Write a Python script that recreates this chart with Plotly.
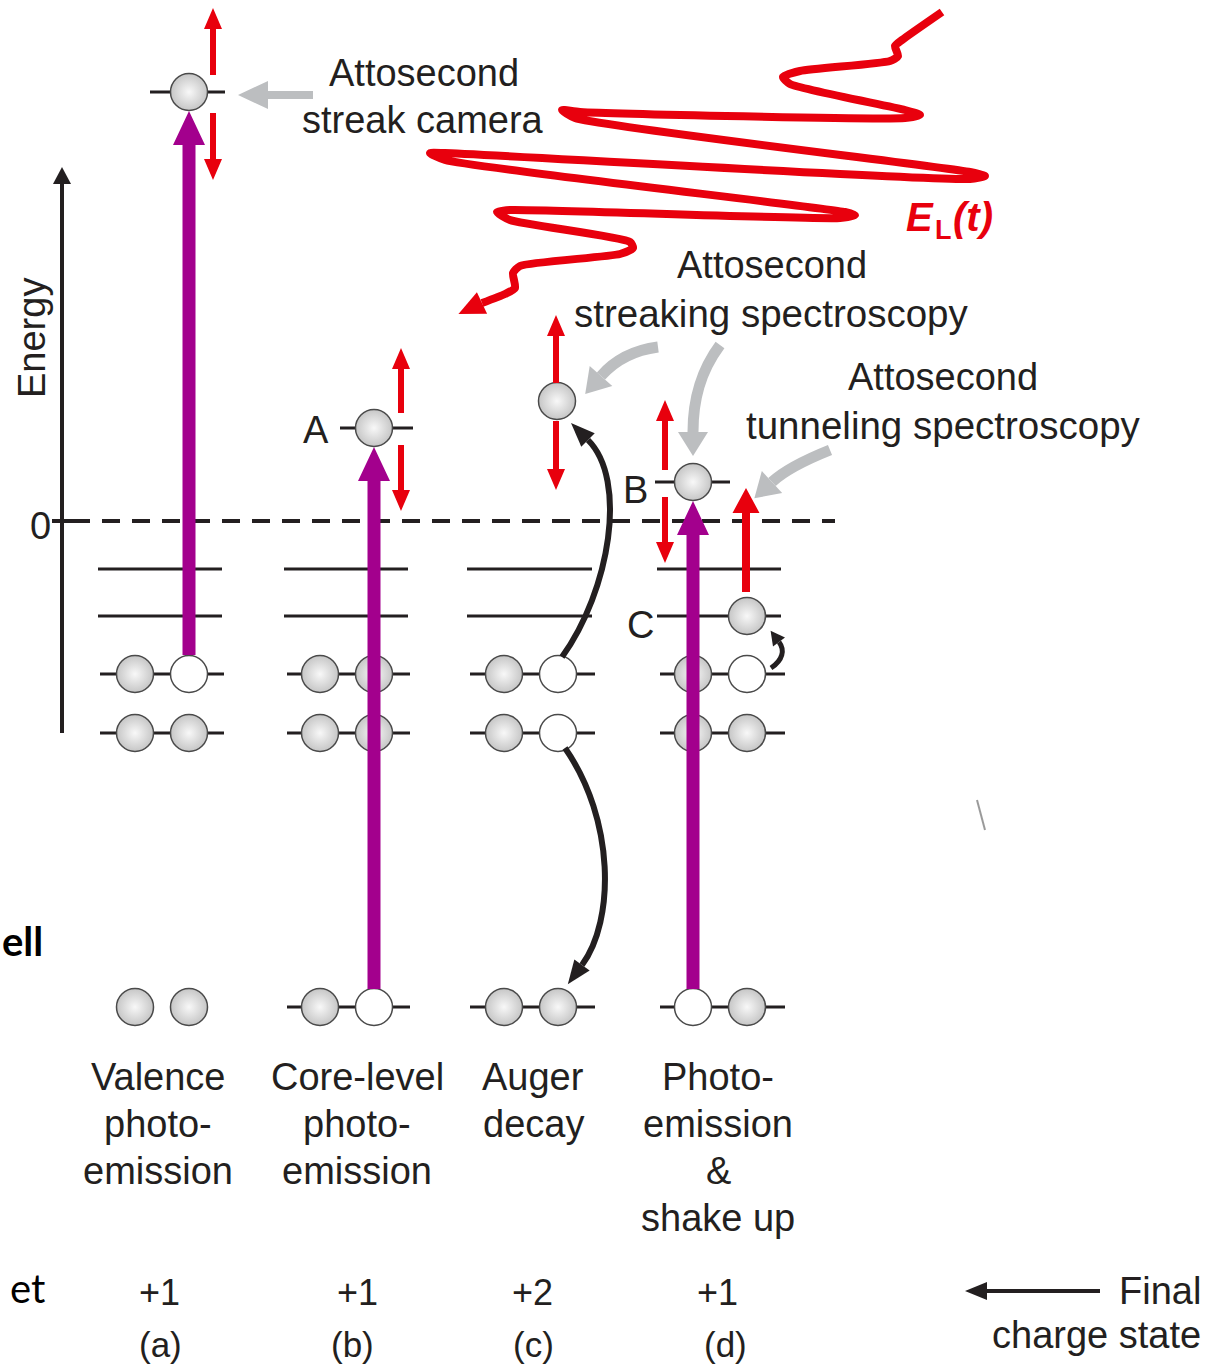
import math
import plotly.graph_objects as go

W, H = 1219, 1368

# ---------------- data (diagram space: x to the right, y downward in px) ----------------
zero_level_y = 521
unocc_levels_y = [569, 616]
valence_levels_y = [674, 733]
core_level_y = 1007

col_names = [["Valence", "photo-", "emission"],
             ["Core-level", "photo-", "emission"],
             ["Auger", "decay"],
             ["Photo-", "emission", "&", "shake up"]]
col_name_x = [158, 357, 533, 718]
charges = ["+1", "+1", "+2", "+1"]
charge_x = [159, 357, 532, 717]
panel_tags = ["(a)", "(b)", "(c)", "(d)"]
tag_x = [160, 352, 533, 725]

unocc_x0 = [98, 284, 467, 657]
unocc_x1 = [222, 408, 592, 781]
occ_x0 = [100, 287, 470, 660]
occ_x1 = [224, 410, 595, 785]
slot_left = [135, 320, 504, 693]
slot_right = [189, 374, 558, 747]
core_line_drawn = [False, True, True, True]

# occupancy of the two slots: 1 electron, 0 hole
occ_val1 = [[1, 0], [1, 1], [1, 0], [1, 0]]
occ_val2 = [[1, 1], [1, 1], [1, 0], [1, 1]]
occ_core = [[1, 1], [1, 0], [1, 1], [0, 1]]

# emitted / excited electrons
free_e_x = [189, 374, 557, 693, 747]
free_e_y = [92, 428, 401, 482, 616]
free_level_x0 = [150, 340, 655]
free_level_x1 = [225, 413, 730]
free_level_y = [92, 428, 482]
letter_labels = ["A", "B", "C"]
letter_x = [316, 635, 640]
letter_y = [430, 490, 625]

# XUV photo-excitation arrows (x, from-y, to-y)
xuv_x = [189, 374, 693]
xuv_from = [655, 989, 989]
xuv_to = [111, 447, 501]

# streaking arrows (x, up: from, to ; down: from, to)
streak_x = [213, 401, 556, 665]
streak_up_from = [75, 413, 383, 470]
streak_up_to = [8, 348, 315, 400]
streak_dn_from = [113, 445, 421, 497]
streak_dn_to = [180, 511, 490, 563]

# laser field E_L(t)
wave_x = [942, 902, 895, 898, 890, 800, 783, 790, 905, 920, 905, 580, 562, 575, 970, 985,
          970, 445, 430, 445, 845, 855, 840, 510, 497, 510, 630, 633, 620, 520, 513, 515, 505, 482]
wave_y = [12, 40, 46, 56, 61, 71, 77, 84, 110, 115, 118, 112, 110, 118, 172, 176,
          179, 153, 153, 160, 212, 215, 218, 210, 212, 220, 242, 248, 254, 266, 273, 288, 294, 303]

# ---------------- styles ----------------
INK = "#231f20"
RED = "#e8000d"
PURPLE = "#a3008d"
GREY = "#bcbec0"
FONT = "Liberation Sans, Arial, sans-serif"
FS = 38

fig = go.Figure()
shapes = []
annotations = []


def hline(x0, x1, y, width=3, color=INK, dash=None, layer="below"):
    line = dict(color=color, width=width)
    if dash:
        line["dash"] = dash
    shapes.append(dict(type="line", xref="x", yref="y", x0=x0, x1=x1, y0=y, y1=y,
                       line=line, layer=layer))


def fmt(pts):
    return "M " + " L ".join(f"{x:.2f},{y:.2f}" for x, y in pts) + " Z"


def arrow(x0, y0, x1, y1, sw, hw, hl, color):
    dx, dy = x1 - x0, y1 - y0
    L = math.hypot(dx, dy)
    ux, uy = dx / L, dy / L
    nx, ny = -uy, ux
    bx, by = x1 - ux * hl, y1 - uy * hl
    pts = [(x0 + nx * sw / 2, y0 + ny * sw / 2), (bx + nx * sw / 2, by + ny * sw / 2),
           (bx + nx * hw / 2, by + ny * hw / 2), (x1, y1),
           (bx - nx * hw / 2, by - ny * hw / 2), (bx - nx * sw / 2, by - ny * sw / 2),
           (x0 - nx * sw / 2, y0 - ny * sw / 2)]
    shapes.append(dict(type="path", xref="x", yref="y", path=fmt(pts),
                       fillcolor=color, line=dict(width=0), layer="above"))


def head(bx, by, ux, uy, hw, hl, color):
    L = math.hypot(ux, uy)
    ux, uy = ux / L, uy / L
    nx, ny = -uy, ux
    tip = (bx + ux * hl, by + uy * hl)
    pts = [(bx + nx * hw / 2, by + ny * hw / 2), tip, (bx - nx * hw / 2, by - ny * hw / 2)]
    shapes.append(dict(type="path", xref="x", yref="y", path=fmt(pts),
                       fillcolor=color, line=dict(width=0), layer="above"))


def curved_arrow(p0, p1, p2, p3, sw, hw, hl, color):
    path = (f"M {p0[0]},{p0[1]} C {p1[0]},{p1[1]} {p2[0]},{p2[1]} {p3[0]},{p3[1]}")
    shapes.append(dict(type="path", xref="x", yref="y", path=path,
                       line=dict(color=color, width=sw), layer="above"))
    head(p3[0], p3[1], p3[0] - p2[0], p3[1] - p2[1], hw, hl, color)


def text(x, y, s, size=FS, color=INK, xanchor="center", family=FONT, angle=0):
    annotations.append(dict(x=x, y=y, xref="x", yref="y", text=s, showarrow=False,
                            xanchor=xanchor, yanchor="middle", textangle=angle,
                            font=dict(family=family, size=size, color=color)))


# ---------------- energy axis ----------------
shapes.append(dict(type="line", xref="x", yref="y", x0=62, x1=62, y0=733, y1=182,
                   line=dict(color=INK, width=4), layer="below"))
head(62, 184, 0, -1, 18, 17, INK)
hline(52, 73, zero_level_y, width=4)
text(40, zero_level_y + 5, "0")
text(32, 338, "Energy", angle=-90)
hline(72, 835, zero_level_y, width=4, dash="18px,12px")

# ---------------- levels ----------------
for i in range(4):
    for y in unocc_levels_y:
        hline(unocc_x0[i], unocc_x1[i], y)
    for y in valence_levels_y:
        hline(occ_x0[i], occ_x1[i], y)
    if core_line_drawn[i]:
        hline(occ_x0[i], occ_x1[i], core_level_y)
for i in range(3):
    hline(free_level_x0[i], free_level_x1[i], free_level_y[i])

# ---------------- electrons & holes ----------------
ex, ey, hx, hy = [], [], [], []
for i in range(4):
    for y, occ in zip([valence_levels_y[0], valence_levels_y[1], core_level_y],
                      [occ_val1[i], occ_val2[i], occ_core[i]]):
        for xs, o in zip([slot_left[i], slot_right[i]], occ):
            (ex if o else hx).append(xs)
            (ey if o else hy).append(y)
ex += free_e_x
ey += free_e_y

fig.add_trace(go.Scatter(x=ex, y=ey, mode="markers", hoverinfo="skip",
                         marker=dict(size=37, color="#c6c6c6",
                                     gradient=dict(type="radial", color="#f8f8f8"),
                                     line=dict(color="#4a4a4a", width=1.5))))
fig.add_trace(go.Scatter(x=hx, y=hy, mode="markers", hoverinfo="skip",
                         marker=dict(size=37, color="white",
                                     line=dict(color="#4a4a4a", width=1.5))))

# ---------------- laser field ----------------
fig.add_trace(go.Scatter(x=wave_x, y=wave_y, mode="lines", hoverinfo="skip",
                         line=dict(color=RED, width=8, shape="spline", smoothing=0.6)))
head(482, 303, -0.906, 0.423, 24, 26, RED)

# ---------------- arrows ----------------
for x, y0, y1 in zip(xuv_x, xuv_from, xuv_to):
    arrow(x, y0, x, y1, 13, 32, 34, PURPLE)
for x, a, b, c, d in zip(streak_x, streak_up_from, streak_up_to, streak_dn_from, streak_dn_to):
    arrow(x, a, x, b, 6, 18, 21, RED)
    arrow(x, c, x, d, 6, 18, 21, RED)
arrow(746, 592, 746, 488, 8, 27, 25, RED)          # tunneling

arrow(313, 95, 238, 95, 8, 28, 30, GREY)           # streak camera pointer
curved_arrow((658, 347), (635, 350), (615, 360), (601, 376), 11, 30, 24, GREY)
curved_arrow((720, 345), (700, 372), (693, 400), (693, 432), 11, 30, 24, GREY)
curved_arrow((830, 450), (805, 460), (785, 470), (772, 482), 11, 30, 24, GREY)

curved_arrow((562, 657), (610, 590), (628, 480), (588, 440), 6, 19, 24, INK)   # Auger up
curved_arrow((565, 748), (615, 820), (615, 920), (582, 965), 6, 19, 24, INK)   # Auger down
curved_arrow((771, 668), (783, 660), (785, 650), (779, 642), 5, 15, 14, INK)   # shake-up

arrow(1100, 1291, 965, 1291, 4, 18, 22, INK)

# stray mark
shapes.append(dict(type="line", xref="x", yref="y", x0=977, x1=985, y0=800, y1=830,
                   line=dict(color="#9a9a9a", width=2), layer="below"))

# ---------------- texts ----------------
text(424, 73, "Attosecond")
text(423, 120, "streak camera")
text(772, 265, "Attosecond")
text(771, 313, "streaking spectroscopy", size=38.5)
text(943, 377, "Attosecond")
text(943, 425, "tunneling spectroscopy", size=38.5)

# E_L(t)
text(920, 217, "<b><i>E</i></b>", size=40, color=RED)
text(943, 230, "<b>L</b>", size=27, color=RED)
text(973, 217, "<b><i>(t)</i></b>", size=40, color=RED)

for s, x, y in zip(letter_labels, letter_x, letter_y):
    text(x, y, s)

line_y = [1077, 1124, 1171, 1218]
for names, x in zip(col_names, col_name_x):
    for k, s in enumerate(names):
        text(x, line_y[k], s)
for s, x in zip(charges, charge_x):
    text(x, 1292, s, size=36)
for s, x in zip(panel_tags, tag_x):
    text(x, 1344, s, size=35)
text(1203, 1291, "Final", xanchor="right")
text(1203, 1335, "charge state", xanchor="right")

text(0, 941, "<b>ell</b>", size=40, color="black", xanchor="left", family="Lato, Open Sans, sans-serif")
text(8, 1288, "et", size=40, color="black", xanchor="left", family="Lato, Open Sans, sans-serif")

fig.update_layout(
    width=W, height=H, margin=dict(l=0, r=0, t=0, b=0),
    paper_bgcolor="white", plot_bgcolor="white", showlegend=False,
    xaxis=dict(range=[0, W], visible=False, fixedrange=True),
    yaxis=dict(range=[H, 0], visible=False, fixedrange=True),
    shapes=shapes, annotations=annotations,
)
fig.write_html("out.html")
